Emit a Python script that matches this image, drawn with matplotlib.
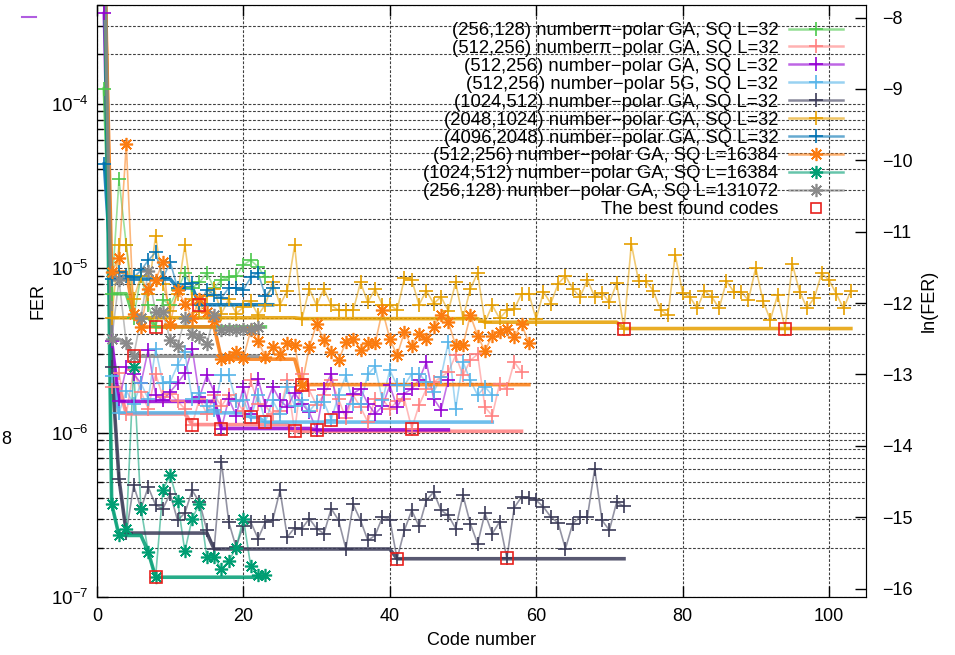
import numpy as np
import matplotlib.pyplot as plt
from matplotlib.lines import Line2D
from matplotlib.ticker import LogLocator, NullFormatter, FixedLocator

plt.rcParams['font.family'] = ['Liberation Sans', 'DejaVu Sans']
plt.rcParams['font.size'] = 13
plt.rcParams['mathtext.fontset'] = 'custom'
plt.rcParams['mathtext.rm'] = 'Liberation Sans'

# FER values in units of 1e-6, code numbers start at 1
green_pi_256 = [124, 7.0, 34.8, 13.8, 5.0, 9.0, 6.0, 4.4, 6.4, 6.0, 7.4, 9.3, 7.6, 8.2, 9.35,
                7.6, 8.5, 8.8, 9.0, 10.5, 11.2, 10.2, 8.8]
pink_pi_512 = [900, 1.9, 2.3, 1.3, 2.4, 1.77, 1.4, 2.28, 1.65, 1.73, 1.55, 1.4, 1.12, 1.61, 1.3,
               1.69, 1.45, 1.69, 1.57, 1.35, 2.08, 1.5, 1.45, 1.3, 1.35, 2.08, 1.02, 2.28, 1.81, 1.47,
               1.7, 2.08, 1.6, 1.22, 1.69, 1.43, 1.16, 1.61, 1.6, 1.4, 1.55, 1.6, 1.06, 1.47, 1.85,
               2.03, 2.18, 2.34, 2.95, 2.23, 2.75, 3.0, 1.43, 1.27, 1.98, 1.85, 2.69, 2.34]
purple_512 = [355, 3.6, 1.55, 2.5, 2.28, 2.0, 3.2, 1.7, 1.57, 1.77, 2.0, 2.3, 3.25, 1.65, 2.23,
              1.77, 1.06, 1.61, 1.27, 1.9, 1.3, 2.13, 1.45, 1.9, 1.57, 1.43, 1.75, 1.5, 1.33, 1.04,
              1.85, 2.28, 1.33, 1.33, 1.73, 1.85, 1.5, 1.3, 1.45, 1.94, 1.43, 1.73, 1.85, 2.1, 2.69,
              1.61, 1.38, 2.1]
lightblue_5g = [900, 2.2, 1.32, 1.8, 1.5, 2.0, 1.6, 3.24, 2.0, 2.03, 2.57, 3.09, 1.6, 1.75, 1.45,
                1.38, 2.23, 2.23, 1.55, 1.59, 1.24, 1.7, 1.16, 1.57, 1.3, 1.9, 1.45, 1.57, 1.35, 1.53,
                1.53, 1.2, 1.69, 2.23, 1.5, 1.5, 2.26, 2.53, 1.57, 2.4, 1.94, 1.94, 2.28, 2.28, 2.03,
                1.77, 2.18, 3.56, 1.4, 2.69, 2.08, 1.69, 1.9, 1.69]
navy_1024 = [900, 2.5, 0.525, 0.245, 0.478, 0.345, 0.467, 0.362, 0.345, 0.425, 0.293, 0.324, 0.445,
             0.378, 0.255, 0.196, 0.663, 0.286, 0.201, 0.272, 0.286, 0.227, 0.286, 0.293, 0.445,
             0.232, 0.264, 0.261, 0.300, 0.261, 0.243, 0.345, 0.293, 0.197, 0.366, 0.293, 0.221,
             0.237, 0.307, 0.296, 0.171, 0.255, 0.337, 0.269, 0.388, 0.435, 0.337, 0.314, 0.261,
             0.416, 0.28, 0.211, 0.324, 0.243, 0.286, 0.172, 0.35, 0.406, 0.402, 0.388, 0.353,
             0.307, 0.282, 0.197, 0.28, 0.307, 0.307, 0.604, 0.293, 0.255, 0.378, 0.356]
yellow_2048 = [900, 5.0, 13.8, 13.8, 6.5, 9.0, 7.0, 15.8, 8.0, 5.5, 7.0, 13.8, 6.5, 5.4, 6.8, 7.5,
               5.3, 6.5, 5.3, 5.8, 6.3, 5.2, 6.0, 8.3, 6.0, 7.3, 13.8, 4.94, 7.5, 5.95, 7.5, 5.95,
               5.55, 5.55, 5.55, 8.2, 6.2, 7.5, 5.95, 6.0, 5.55, 8.7, 8.5, 6.0, 7.3, 6.1, 6.7, 5.5,
               8.2, 4.95, 7.5, 9.35, 4.7, 5.95, 4.95, 5.55, 5.65, 7.0, 7.0, 4.9, 7.2, 6.1, 8.05, 9.0,
               7.5, 6.7, 8.5, 6.7, 7.1, 6.2, 8.1, 4.3, 14.1, 8.35, 8.35, 7.3, 5.6, 5.17, 12.1, 7.1,
               6.7, 5.7, 7.3, 6.7, 5.7, 8.35, 7.2, 7.2, 6.4, 10.1, 6.3, 4.86, 6.9, 4.3, 10.6, 7.2,
               5.75, 6.6, 9.3, 8.5, 7.0, 5.7, 7.3]
blue_4096 = [43.3, 8.6, 9.5, 9.0, 8.8, 9.7, 11.2, 12.5, 8.7, 10.9, 7.6, 8.0, 8.1, 6.0, 7.4, 6.9,
             6.6, 7.6, 7.6, 7.4, 8.8, 9.4, 6.8, 7.6]
orange_16384 = [900, 9.5, 11.5, 57, 5.3, 4.4, 7.5, 8.5, 10.9, 4.6, 7.35, 6.1, 5.0, 6.5, 5.4, 4.8,
                2.8, 2.9, 3.1, 2.85, 4.2, 3.6, 2.9, 3.3, 3.0, 3.5, 3.4, 1.96, 3.3, 4.6, 3.64, 3.09,
                2.75, 3.56, 3.73, 3.2, 3.5, 3.5, 5.55, 3.73, 2.95, 4.1, 3.35, 4.0, 3.73, 4.4, 5.17,
                4.7, 3.4, 3.4, 5.17, 3.9, 3.13, 3.9, 4.1, 4.3, 3.8, 4.6, 3.5]
teal_16384 = [900, 0.37, 0.237, 0.26, 2.5, 0.345, 0.188, 0.132, 0.45, 0.55, 0.385, 0.19, 0.30,
              0.37, 0.175, 0.175, 0.148, 0.165, 0.20, 0.30, 0.154, 0.137, 0.137]
gray_131072 = [900, 3.7, 8.5, 3.5, 2.92, 5.0, 9.6, 5.4, 5.4, 3.65, 3.35, 4.95, 4.0, 3.8, 3.45, 5.2,
               4.2, 4.3, 4.2, 4.3, 4.3, 4.4]

best_x = [5, 8, 8, 13, 14, 17, 21, 23, 27, 28, 30, 32, 41, 43, 56, 72, 94]
best_v = [2.92, 0.132, 4.4, 1.12, 6.0, 1.06, 1.24, 1.16, 1.02, 1.96, 1.04, 1.2, 0.171, 1.06, 0.172,
          4.3, 4.3]

labels = ['(256,128) number\u03c0\u2212polar GA, SQ L=32',
          '(512,256) number\u03c0\u2212polar GA, SQ L=32',
          '(512,256) number\u2212polar GA, SQ L=32',
          '(512,256) number\u2212polar 5G, SQ L=32',
          '(1024,512) number\u2212polar GA, SQ L=32',
          '(2048,1024) number\u2212polar GA, SQ L=32',
          '(4096,2048) number\u2212polar GA, SQ L=32',
          '(512,256) number\u2212polar GA, SQ L=16384',
          '(1024,512) number\u2212polar GA, SQ L=16384',
          '(256,128) number\u2212polar GA, SQ L=131072']
datasets = [green_pi_256, pink_pi_512, purple_512, lightblue_5g, navy_1024, yellow_2048,
            blue_4096, orange_16384, teal_16384, gray_131072]
colors = ['#4cc84c', '#ff8080', '#9400d3', '#56b4e9', '#3b3b58', '#e69f00', '#0072b2',
          '#fb7c10', '#009e73', '#8a8a8a']
star = (8, 2, 0)
markers = ['+'] * 7 + [star] * 3

fig = plt.figure(figsize=(9.55, 6.55), dpi=100)
ax = fig.add_axes([0.1016, 0.0885, 0.8047, 0.9039])

handles = []
for vals, c, m in zip(datasets, colors, markers):
    y = np.array(vals) * 1e-6
    x = np.arange(1, len(y) + 1)
    ax.plot(x, y, color=c, lw=1.2, alpha=0.55, zorder=2)
    ax.plot(x, np.minimum.accumulate(y), color=c, lw=2.6, alpha=0.85, zorder=2.5)
    ax.plot(x, y, ls='none', marker=m, ms=9.5, mew=1.2, color=c, zorder=3)
    h_line = Line2D([], [], color=c, lw=1.8, alpha=0.6)
    h_mark = Line2D([], [], color=c, ls='none', marker=m, ms=9.5, mew=1.2)
    handles.append((h_line, h_mark))

ax.plot(best_x, np.array(best_v) * 1e-6, ls='none', marker='s', ms=8, mfc='none',
        mec='#e8201c', mew=1.2, zorder=4)
handles.append(Line2D([], [], ls='none', marker='s', ms=7, mfc='none', mec='#e8201c', mew=1.2))

ax.set_yscale('log')
ax.set_xlim(0, 105)
ax.set_ylim(1e-7, 4e-4)
ax.set_xticks([0, 20, 40, 60, 80, 100])
ax.yaxis.set_minor_locator(LogLocator(base=10, subs=np.arange(2, 10)))
ax.yaxis.set_minor_formatter(NullFormatter())
ax.tick_params(which='major', direction='in', length=8, top=True, right=True, width=1)
ax.tick_params(which='minor', direction='in', length=4, right=True, width=1)
ax.tick_params(axis='x', pad=8)
ax.tick_params(axis='y', pad=6, labelsize=13.5)
ax.grid(True, which='both', axis='y', ls=(0, (2.5, 1.5)), color='k', lw=0.8, alpha=0.75)
ax.grid(True, which='major', axis='x', ls=(0, (2.5, 1.5)), color='k', lw=0.8, alpha=0.75)
ax.set_xlabel('Code number', labelpad=5)
ax.set_ylabel('FER', labelpad=3)
for s in ax.spines.values():
    s.set_color('#404040')

ax2 = ax.twinx()
ax2.set_ylim(np.log(1e-7), np.log(4e-4))
ax2.yaxis.set_major_locator(FixedLocator(range(-16, -7)))
ax2.tick_params(direction='in', length=8, width=1, pad=12)
ax2.set_ylabel('ln(FER)', labelpad=6)

leg = ax.legend(handles, labels + ['The best found codes'], loc='upper right',
                bbox_to_anchor=(0.985, 0.99), frameon=False, markerfirst=False,
                fontsize=13.3, handlelength=2.9, handletextpad=0.6, labelspacing=0.05,
                borderaxespad=0.2)

fig.text(6 / 955, 1 - 440 / 655, '8', ha='center', va='center', fontsize=13)
fig.add_artist(Line2D([22 / 955, 36 / 955], [1 - 17 / 655] * 2, color='#b05de0', lw=1.5))

fig.savefig('out.png', dpi=100)
